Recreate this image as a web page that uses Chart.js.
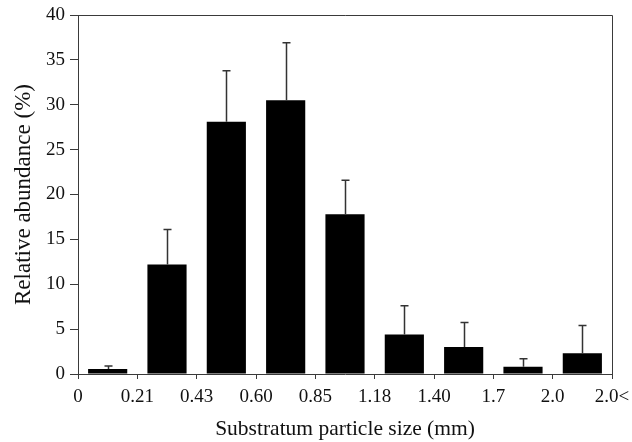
<!DOCTYPE html>
<html>
<head>
<meta charset="utf-8">
<script src="https://cdn.jsdelivr.net/npm/chart.js@4"></script>
<style>
  html, body { margin: 0; padding: 0; background: #fff; }
  #wrap { width: 632px; height: 442px; }
</style>
</head>
<body>
<div id="wrap"><canvas id="c" width="632" height="442"></canvas></div>
<script>
const categories = ["0-0.21", "0.21-0.43", "0.43-0.60", "0.60-0.85", "0.85-1.18", "1.18-1.40", "1.40-1.7", "1.7-2.0", ">2.0"];
const boundaryLabels = ["0", "0.21", "0.43", "0.60", "0.85", "1.18", "1.40", "1.7", "2.0", "2.0<"];
const abundance = [0.55, 12.2, 28.1, 30.5, 17.8, 4.4, 3.0, 0.8, 2.3];
const errorSD = [0.35, 3.9, 5.7, 6.4, 3.8, 3.2, 2.75, 0.9, 3.1];
const yTicks = [0, 5, 10, 15, 20, 25, 30, 35, 40];

const FONT = "'Liberation Serif', 'Times New Roman', serif";
const AXIS_COLOR = '#3a3a3a';

const errorBarPlugin = {
  id: 'errorBars',
  afterDatasetsDraw(chart) {
    const meta = chart.getDatasetMeta(0);
    const yScale = chart.scales.y;
    const ctx = chart.ctx;
    ctx.save();
    ctx.strokeStyle = '#333';
    ctx.lineWidth = 1.5;
    meta.data.forEach((bar, i) => {
      const top = yScale.getPixelForValue(abundance[i] + errorSD[i]);
      const x = Math.round(bar.x) + 0.5;
      ctx.beginPath();
      ctx.moveTo(x, bar.y);
      ctx.lineTo(x, top);
      ctx.moveTo(x - 4, top);
      ctx.lineTo(x + 4, top);
      ctx.stroke();
    });
    ctx.restore();
  }
};

const framePlugin = {
  id: 'frame',
  afterDraw(chart) {
    const a = chart.chartArea;
    const ctx = chart.ctx;
    ctx.save();
    ctx.strokeStyle = AXIS_COLOR;
    ctx.lineWidth = 1;
    ctx.beginPath();
    ctx.moveTo(a.left, a.top + 0.5);
    ctx.lineTo(a.right + 0.5, a.top + 0.5);
    ctx.lineTo(a.right + 0.5, a.bottom);
    ctx.stroke();
    ctx.restore();
  }
};

new Chart(document.getElementById('c'), {
  type: 'bar',
  data: {
    labels: categories,
    datasets: [{
      data: abundance,
      backgroundColor: '#000',
      borderWidth: 0,
      barPercentage: 0.66,
      categoryPercentage: 1.0
    }]
  },
  options: {
    responsive: false,
    animation: false,
    devicePixelRatio: 1,
    layout: { padding: { top: 15, right: 20, left: 0, bottom: 0 } },
    plugins: { legend: { display: false }, tooltip: { enabled: false } },
    scales: {
      x: { display: false },
      x2: {
        type: 'linear',
        position: 'bottom',
        offset: false,
        min: 0,
        max: boundaryLabels.length - 1,
        afterFit(s) { s.height = 68; s.paddingLeft = 0; s.paddingRight = 0; },
        afterBuildTicks(s) { s.ticks = boundaryLabels.map((_, i) => ({ value: i })); },
        ticks: {
          autoSkip: false,
          maxRotation: 0,
          padding: 7,
          color: '#111',
          font: { family: FONT, size: 19 },
          callback: (v) => boundaryLabels[v]
        },
        grid: { offset: false, drawOnChartArea: false, drawTicks: true, tickLength: 5, color: AXIS_COLOR },
        border: { display: true, color: AXIS_COLOR, width: 1 },
        title: {
          display: true,
          text: 'Substratum particle size (mm)',
          color: '#111',
          font: { family: FONT, size: 21.5 },
          padding: { top: 4, bottom: 0 }
        }
      },
      y: {
        min: 0,
        max: 40,
        afterFit(s) { s.width = 78; s.paddingTop = 0; s.paddingBottom = 0; },
        afterBuildTicks(s) { s.ticks = yTicks.map(v => ({ value: v })); },
        ticks: {
          padding: 5,
          color: '#111',
          font: { family: FONT, size: 19 }
        },
        grid: { drawOnChartArea: false, drawTicks: true, tickLength: 8, color: AXIS_COLOR },
        border: { display: true, color: AXIS_COLOR, width: 1 },
        title: {
          display: true,
          text: 'Relative abundance (%)',
          color: '#111',
          font: { family: FONT, size: 23 },
          padding: { top: 10, bottom: 4 }
        }
      }
    }
  },
  plugins: [errorBarPlugin, framePlugin]
});
</script>
</body>
</html>
